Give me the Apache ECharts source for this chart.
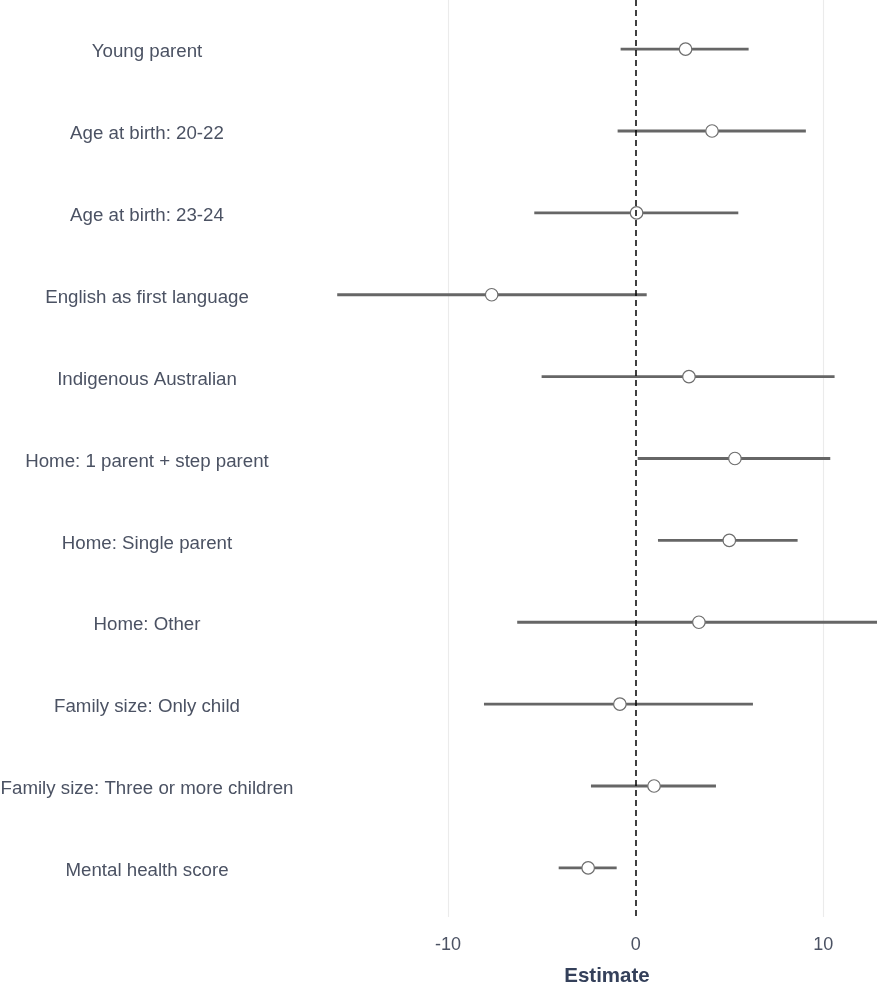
<!DOCTYPE html>
<html>
<head>
<meta charset="utf-8">
<title>Estimates</title>
<script src="https://cdn.jsdelivr.net/npm/echarts@6/dist/echarts.min.js"></script>
<style>
  html, body { margin: 0; padding: 0; background: #ffffff; }
  #chart { width: 877px; height: 988px; }
</style>
</head>
<body>
<div id="chart"></div>
<script>
// Predictors, top to bottom
const terms = [
  'Young parent',
  'Age at birth: 20-22',
  'Age at birth: 23-24',
  'English as first language',
  'Indigenous Australian',
  'Home: 1 parent + step parent',
  'Home: Single parent',
  'Home: Other',
  'Family size: Only child',
  'Family size: Three or more children',
  'Mental health score'
];
// Point estimates and confidence bounds
const estimate = [2.66, 4.07, 0.05, -7.67, 2.84, 5.29, 4.99, 3.37, -0.84, 0.98, -2.53];
const lower    = [-0.80, -0.96, -5.40, -15.90, -5.01, 0.11, 1.19, -6.31, -8.08, -2.38, -4.10];
const upper    = [6.02, 9.07, 5.47, 0.59, 10.60, 10.37, 8.63, 13.00, 6.25, 4.28, -1.01];
// Axis tick labels
const xTicks = [-10, 0, 10];

const FONT = '"Liberation Sans", Arial, sans-serif';
const rowPos = terms.map((_, i) => i + 1);

const intervalData = terms.map((_, i) => [rowPos[i], lower[i], upper[i]]);
const pointData = terms.map((_, i) => [estimate[i], rowPos[i]]);

const chart = echarts.init(document.getElementById('chart'), null, { renderer: 'canvas' });

chart.setOption({
  animation: false,
  backgroundColor: '#ffffff',
  grid: { left: 310, right: 0, top: 0, bottom: 71, containLabel: false, outerBoundsMode: 'none' },
  xAxis: {
    type: 'value',
    min: -17.35,
    max: 12.86,
    axisLine: { show: false },
    axisTick: { show: false },
    splitLine: { show: false },
    axisLabel: {
      customValues: xTicks,
      margin: 19,
      fontFamily: FONT,
      fontSize: 18,
      color: '#4B5263'
    }
  },
  yAxis: {
    type: 'value',
    inverse: true,
    min: 0.4,
    max: 11.6,
    axisLine: { show: false },
    axisTick: { show: false },
    splitLine: { show: false },
    axisLabel: {
      customValues: rowPos,
      formatter: v => '{t|' + (terms[Math.round(v) - 1] || '') + '}',
      align: 'center',
      margin: 163,
      rich: {
        t: {
          padding: [6, 0, 0, 0],
          fontFamily: FONT,
          fontSize: 18.7,
          color: '#4B5263'
        }
      }
    }
  },
  graphic: [{
    type: 'text',
    x: 607,
    y: 976,
    style: {
      text: 'Estimate',
      align: 'center',
      verticalAlign: 'middle',
      font: 'bold 20.5px ' + FONT,
      fill: '#34405A'
    }
  }],
  series: [
    {
      // confidence intervals, with the panel gridlines underneath
      type: 'custom',
      z: 2,
      clip: true,
      data: intervalData,
      renderItem: function (params, api) {
        const y = api.value(0);
        const a = api.coord([api.value(1), y]);
        const b = api.coord([api.value(2), y]);
        const cs = params.coordSys;
        const x0 = Math.max(a[0], cs.x), x1 = Math.min(b[0], cs.x + cs.width);
        return {
          type: 'line',
          shape: { x1: x0, y1: a[1], x2: x1, y2: b[1] },
          style: { stroke: '#666666', lineWidth: 2.8 }
        };
      },
      markLine: {
        silent: true,
        symbol: 'none',
        label: { show: false },
        lineStyle: { color: '#EBEBEB', width: 1.1, type: 'solid' },
        data: [{ xAxis: -10 }, { xAxis: 10 }],
        z: 1
      }
    },
    {
      // reference line at zero
      type: 'line',
      z: 3,
      data: [],
      markLine: {
        silent: true,
        symbol: 'none',
        label: { show: false },
        lineStyle: { color: '#000000', width: 1.5, type: [6, 4] },
        data: [{ xAxis: 0 }]
      }
    },
    {
      type: 'scatter',
      z: 4,
      data: pointData,
      symbol: 'circle',
      symbolSize: 12.5,
      itemStyle: { color: '#ffffff', borderColor: '#6E6E6E', borderWidth: 1.2, opacity: 1 }
    }
  ]
});
</script>
</body>
</html>
